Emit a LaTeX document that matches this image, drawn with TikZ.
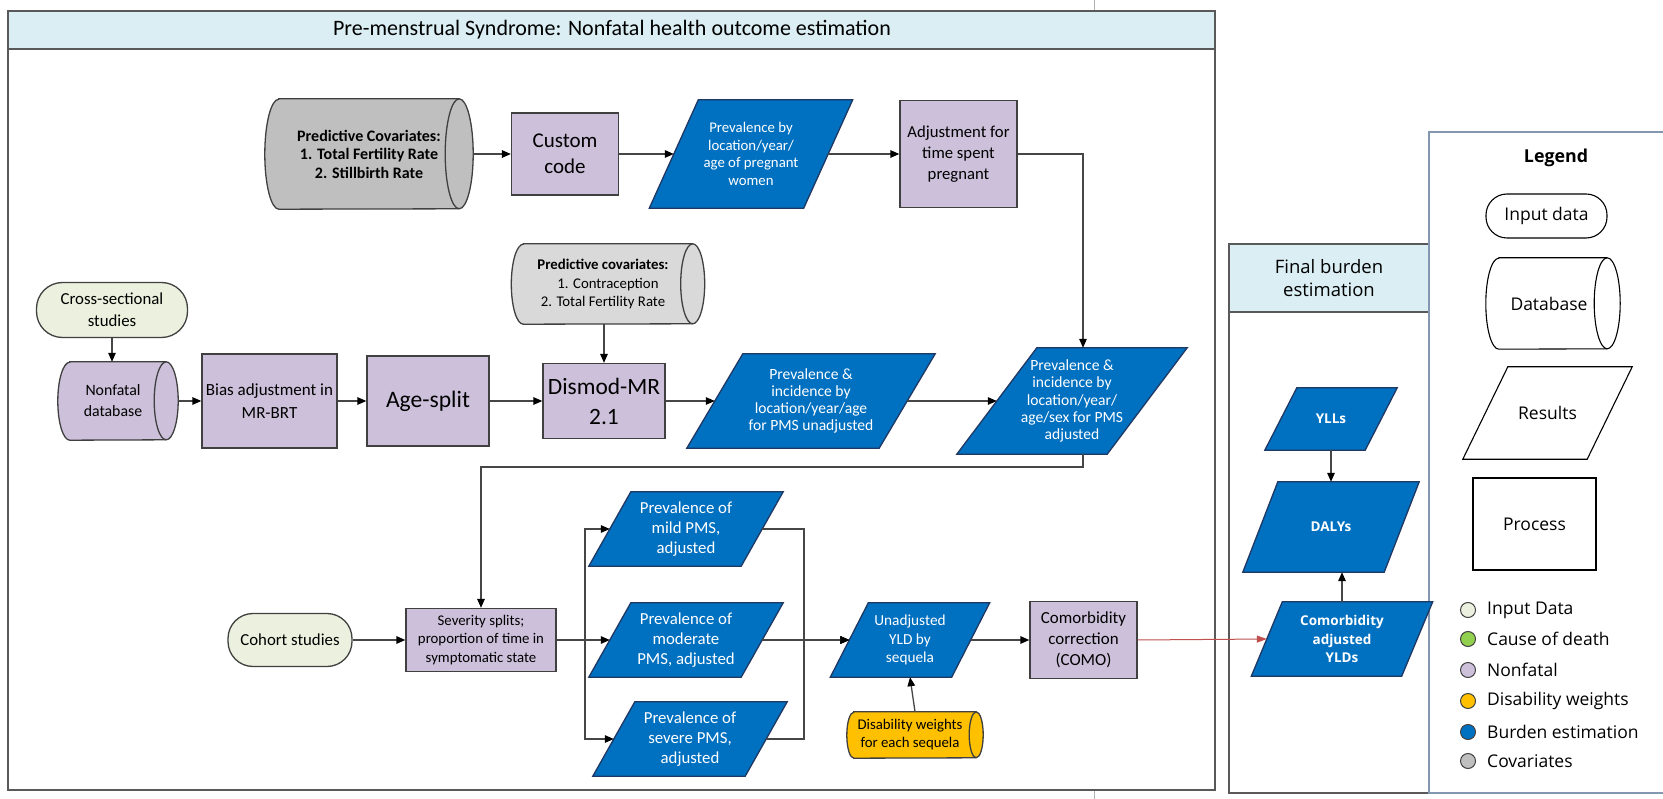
\documentclass[tikz,border=0pt]{standalone}
\usepackage{fontspec}
\setmainfont{Carlito}
\newfontfamily\osans{Open Sans}
\usetikzlibrary{arrows.meta}

\definecolor{lilac}{RGB}{204,192,218}
\definecolor{bandblue}{RGB}{218,238,243}
\definecolor{burdenblue}{RGB}{0,112,192}
\definecolor{navyline}{RGB}{31,56,100}
\definecolor{inputgreen}{RGB}{235,241,222}
\definecolor{causegreen}{RGB}{146,208,80}
\definecolor{covdark}{RGB}{191,191,191}
\definecolor{covlight}{RGB}{217,217,217}
\definecolor{dwyellow}{RGB}{255,192,0}
\definecolor{comored}{RGB}{192,80,77}
\definecolor{boxline}{RGB}{64,64,64}
\definecolor{frameline}{RGB}{89,89,89}
\definecolor{legline}{RGB}{132,151,176}
\definecolor{wireline}{RGB}{70,70,70}

\pgfdeclarelayer{frames}
\pgfdeclarelayer{shapes}
\pgfsetlayers{frames,shapes,main}

\newcommand\setfs[2]{\fontsize{#1pt}{#2pt}\selectfont}
% text line pushed a little to the left (drum bodies end before their right rim)
\newcommand\lft[1]{#1\hspace*{10pt}}
% parallelogram behind a text node: #2 node, #3 half of the slant
\newcommand\parashape[3][]{%
  \path[#1] ([xshift=#3]#2.north west) -- ([xshift=#3]#2.north east)
    -- ([xshift=-#3]#2.south east) -- ([xshift=-#3]#2.south west) -- cycle;}
% horizontal database drum behind a text node: #2 node, #3 x radius, #4 y radius
\newcommand\cylshape[4][]{%
  \path[#1] ([xshift=#3]#2.north west) -- ([xshift=-#3]#2.north east)
    arc[start angle=90,end angle=-90,x radius=#3,y radius=#4]
    -- ([xshift=#3]#2.south west)
    arc[start angle=270,end angle=90,x radius=#3,y radius=#4] -- cycle;
  \draw[#1,fill=none] ([xshift=-#3]#2.north east)
    arc[start angle=90,end angle=270,x radius=#3,y radius=#4];}

\begin{document}
\begin{tikzpicture}[x=1pt,y=1pt,
  every node/.style={inner sep=0pt,align=center},
  procbox/.style={rectangle,draw=boxline,fill=lilac,line width=1.3pt},
  pill/.style={rectangle,draw=boxline,fill=inputgreen,line width=1.3pt},
  slot/.style={rectangle,text=white},
  bluepara/.style={fill=burdenblue,draw=navyline,line width=1.3pt},
  drum/.style={draw=boxline,line width=1.3pt},
  flow/.style={draw=wireline,line width=1.3pt,-{Triangle[length=9pt,width=7.5pt,color=black]}},
  redflow/.style={draw=comored,line width=1pt,-{Triangle[length=10pt,width=7pt,color=comored]}},
  legshape/.style={draw=black,fill=white,line width=1.1pt},
  dot/.style={circle,draw=boxline,line width=1pt,minimum size=15pt},
  grid/.style={draw=black!30,line width=0.8pt}]

\useasboundingbox (0,0) rectangle (1663,-799);

% ---------------- frames ----------------
\begin{pgfonlayer}{frames}
  \fill[white] (0,0) rectangle (1663,-799);
  \draw[grid] (1094,0) -- (1094,-11);
  \draw[grid] (1094,-790) -- (1094,-799);
  \fill[bandblue] (8,-11) rectangle (1215,-49);
  \draw[frameline,line width=1.8pt] (8,-49) -- (1215,-49);
  \draw[frameline,line width=1.8pt] (8,-11) rectangle (1215,-790);
  \fill[bandblue] (1229,-244) rectangle (1429,-312);
  \draw[frameline,line width=1.6pt] (1229,-312) -- (1429,-312);
  \draw[frameline,line width=1.6pt] (1229,-244) rectangle (1429,-793);
  \draw[legline,line width=1.6pt] (1663,-132) -- (1429,-132) -- (1429,-793) -- (1663,-793);
\end{pgfonlayer}

\node[font=\setfs{22}{26}] (title) at (612,-30)
  {Pre-menstrual Syndrome: Nonfatal health outcome estimation};
\node[font=\osans\setfs{18.5}{23}] (fbtitle) at (1329,-278) {Final burden\\estimation};

% ---------------- upper branch ----------------
\node[minimum width=208pt,minimum height=110pt,font=\bfseries\setfs{16}{18.5}] (covA) at (369,-154)
  {Predictive Covariates:\\1. Total Fertility Rate\\2. Stillbirth Rate};
\node[procbox,minimum width=107pt,minimum height=82pt,font=\setfs{21}{26}] (custom) at (565,-154) {Custom\\code};
\node[slot,minimum width=154pt,minimum height=108pt,font=\setfs{14.8}{17.5}] (preg) at (751,-154)
  {Prevalence by\\location/year/\\age of pregnant\\women};
\node[procbox,minimum width=117pt,minimum height=107pt,font=\setfs{16.7}{20.7}] (adjust) at (958.5,-154)
  {Adjustment for\\time spent\\pregnant};
\coordinate (vx) at (1083,0);

% ---------------- main branch ----------------
\node[pill,rounded corners=26pt,minimum width=151pt,minimum height=55pt,font=\setfs{16.8}{21.7}] (cross) at (112,-310)
  {Cross-sectional\\studies};
\node[minimum width=120pt,minimum height=78pt,font=\setfs{15.8}{21}] (nonfatal) at (118,-401)
  {\lft{Nonfatal}\\\lft{database}};
\node[procbox,minimum width=135pt,minimum height=94pt,font=\setfs{17}{23}] (bias) at (269.5,-401)
  {Bias adjustment in\\MR-BRT};
\node[procbox,minimum width=122pt,minimum height=90pt,font=\setfs{23.6}{28}] (agesplit) at (428,-401) {Age-split};
\node[minimum width=193pt,minimum height=80pt,font=\setfs{14.8}{18.3}] (covB) at (608,-284)
  {\lft{\textbf{Predictive covariates:}}\\\lft{1. Contraception}\\\lft{2. Total Fertility Rate}};
\node[procbox,minimum width=122pt,minimum height=75pt,font=\setfs{23.4}{30}] (dismod) at (604,-401) {Dismod-MR\\2.1};
\node[slot,minimum width=192pt,minimum height=94pt,font=\setfs{15.6}{17.2}] (unadj) at (811,-401)
  {Prevalence \&\\incidence by\\location/year/age\\for PMS unadjusted};
\node[slot,minimum width=150pt,minimum height=106pt,font=\setfs{15.6}{17.2}] (adj) at (1072,-401)
  {Prevalence \&\\incidence by\\location/year/\\age/sex for PMS\\adjusted};
\coordinate (bend) at (1083,-467);

% ---------------- severity branch ----------------
\node[pill,rounded corners=25pt,minimum width=124pt,minimum height=53pt,font=\setfs{16.8}{20}] (cohort) at (290,-640)
  {Cohort studies};
\node[procbox,minimum width=150pt,minimum height=63pt,font=\setfs{14.8}{18.3}] (sev) at (481,-640)
  {Severity splits;\\proportion of time in\\symptomatic state};
\coordinate (br) at (585,-640);
\node[slot,minimum width=152pt,minimum height=74pt,font=\setfs{16.8}{20}] (mild) at (686,-529)
  {Prevalence of\\mild PMS,\\adjusted};
\node[slot,minimum width=152pt,minimum height=74pt,font=\setfs{16.8}{20}] (mod) at (686,-640)
  {Prevalence of\\moderate\\PMS, adjusted};
\node[slot,minimum width=152pt,minimum height=74pt,font=\setfs{16.8}{20}] (sevp) at (690,-739)
  {Prevalence of\\severe PMS,\\adjusted};
\coordinate (cx) at (804,-640);
\node[slot,minimum width=121pt,minimum height=74pt,font=\setfs{15.3}{18.3}] (yld) at (910,-640)
  {Unadjusted\\YLD by\\sequela};
\node[procbox,minimum width=107pt,minimum height=77pt,font=\setfs{16.9}{20.8}] (como) at (1083.5,-640)
  {Comorbidity\\correction\\(COMO)};
\node[minimum width=136pt,minimum height=46pt,font=\setfs{14.8}{18}] (dw) at (915,-735)
  {\lft{Disability weights}\\\lft{for each sequela}};

% ---------------- final burden ----------------
\node[slot,minimum width=100pt,minimum height=62pt,font=\osans\bfseries\setfs{13.5}{18}] (ylls) at (1331,-419) {YLLs};
\node[slot,minimum width=141pt,minimum height=90pt,font=\osans\bfseries\setfs{13.5}{18}] (dalys) at (1331,-527) {DALYs};
\node[slot,minimum width=150pt,minimum height=74pt,font=\osans\bfseries\setfs{13.5}{18.5}] (ylds) at (1342,-639)
  {Comorbidity\\adjusted\\YLDs};

% ---------------- legend ----------------
\node[font=\osans\bfseries\setfs{17.8}{20}] (legtitle) at (1556,-158) {Legend};
\node[legshape,rounded corners=21pt,minimum width=121pt,minimum height=44pt,font=\osans\setfs{17.5}{20}] (lin) at (1546.5,-216) {Input data};
\node[minimum width=134pt,minimum height=91pt,font=\osans\setfs{17.5}{20}] (ldb) at (1553,-303.5) {Database\hspace*{8pt}};
\node[minimum width=124pt,minimum height=92pt,font=\osans\setfs{17.5}{20}] (lres) at (1547.5,-413) {Results};
\node[legshape,minimum width=123pt,minimum height=92pt,font=\osans\setfs{17.5}{20}] (lproc) at (1534.5,-524) {Process};
\foreach \yy/\cc/\tt in {610/inputgreen/Input Data,639/causegreen/Cause of death,670/lilac/Nonfatal,
                          701/dwyellow/Disability weights,732/burdenblue/Burden estimation,761/covdark/Covariates}{
  \node[dot,fill=\cc] (dot\yy) at (1468,-\yy) {};
  \node[anchor=west,font=\osans\setfs{17.5}{20}] (lab\yy) at (1487,-\yy) {\tt};
}

% ---------------- shapes behind the texts ----------------
\begin{pgfonlayer}{shapes}
  \cylshape[drum,fill=covdark]{covA}{14pt}{55pt}
  \cylshape[drum,fill=covlight]{covB}{12pt}{40pt}
  \cylshape[drum,fill=lilac]{nonfatal}{12pt}{39pt}
  \cylshape[drum,fill=dwyellow]{dw}{7pt}{23pt}
  \cylshape[legshape]{ldb}{13pt}{45.5pt}
  \parashape[bluepara]{preg}{24.5pt}
  \parashape[bluepara]{unadj}{28pt}
  \parashape[bluepara]{adj}{40pt}
  \parashape[bluepara]{mild}{21pt}
  \parashape[bluepara]{mod}{21pt}
  \parashape[bluepara]{sevp}{21pt}
  \parashape[bluepara]{yld}{19pt}
  \parashape[bluepara]{ylls}{16pt}
  \parashape[bluepara]{dalys}{17.5pt}
  \parashape[bluepara]{ylds}{15.5pt}
  \parashape[legshape]{lres}{22.5pt}
\end{pgfonlayer}

% ---------------- connectors ----------------
\draw[flow] (covA.east) -- (custom.west);
\draw[flow] (custom.east) -- (preg.west);
\draw[flow] (preg.east) -- (adjust.west);
\draw[flow] (adjust.east) -| (adj.north -| vx);

\draw[flow] (cross.south) -- (cross.south |- nonfatal.north);
\draw[flow] (nonfatal.east) -- (bias.west);
\draw[flow] (bias.east) -- (agesplit.west);
\draw[flow] (agesplit.east) -- (dismod.west);
\draw[flow] (covB.south -| dismod) -- (dismod.north);
\draw[flow] (dismod.east) -- (unadj.west);
\draw[flow] (unadj.east) -- (adj.west);
\draw[flow] (adj.south -| vx) -- (bend) -| (sev.north);

\draw[flow] (cohort.east) -- (sev.west);
\draw[flow] (sev.east) -- (br) |- (mild.west);
\draw[flow] (sev.east) -- (mod.west);
\draw[flow] (sev.east) -- (br) |- (sevp.west);
\draw[flow] (mild.east) -| (cx) -- (yld.west);
\draw[flow] (mod.east) -- (yld.west);
\draw[flow] (sevp.east) -| (cx) -- (yld.west);
\draw[flow] (yld.east) -- (como.west);
\draw[flow] (dw.north) -- (yld.south);

\draw[redflow] (como.east) -- (ylds.west);
\draw[flow] (ylls.south) -- (dalys.north);
\draw[flow] (ylds.north) -- (ylds.north |- dalys.south);
\end{tikzpicture}
\end{document}
